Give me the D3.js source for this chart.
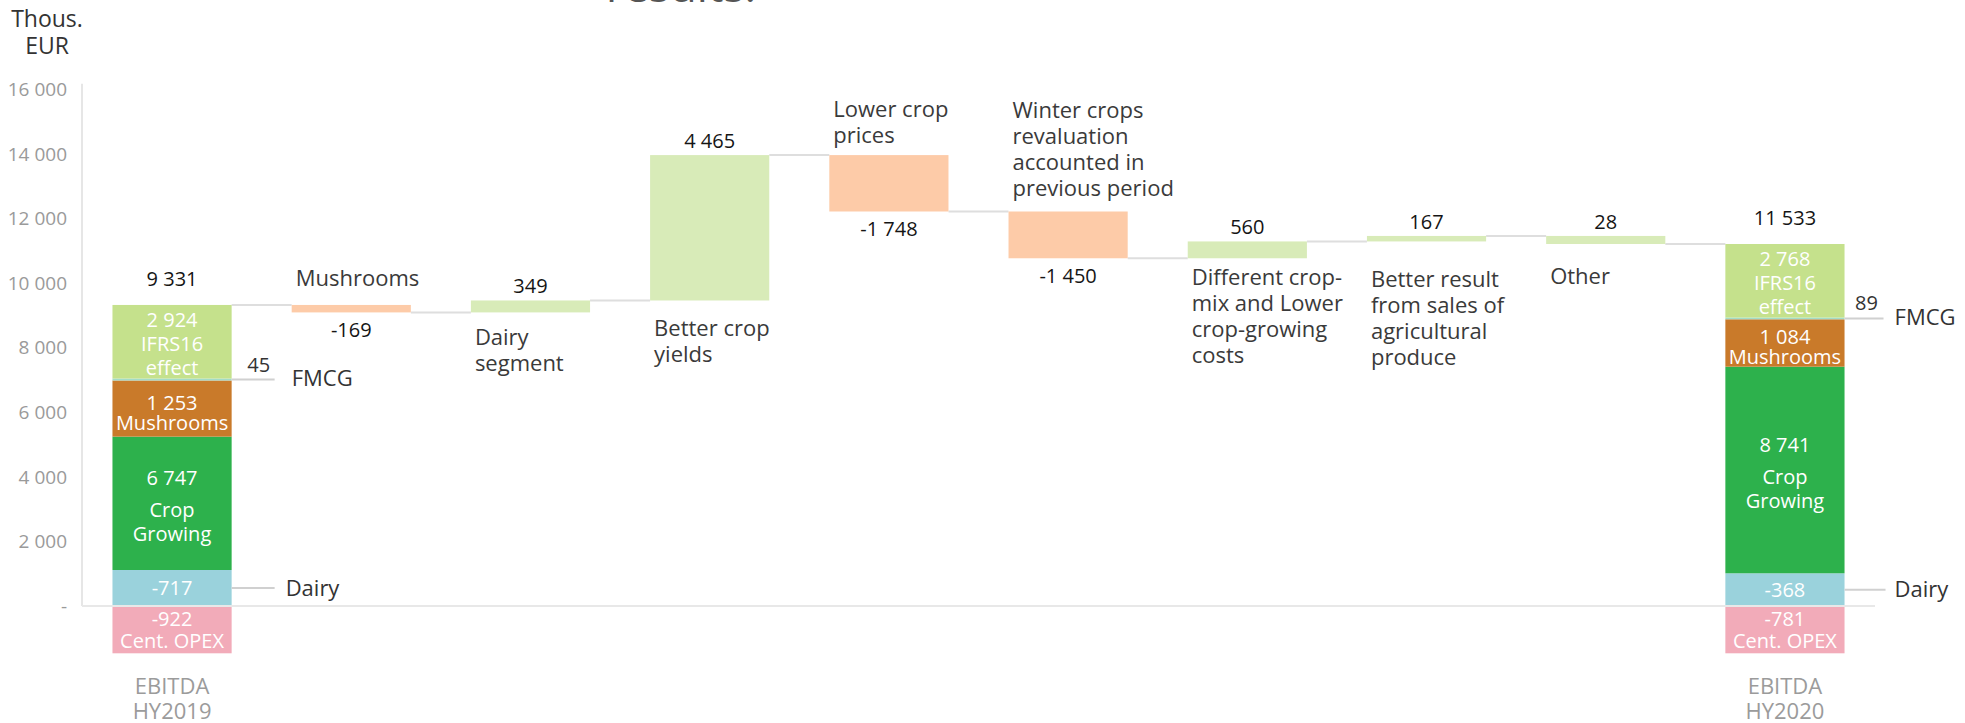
<!DOCTYPE html>
<html>
  <head>
    <meta charset="utf-8">
    <title>EBITDA bridge HY2019 - HY2020</title>
    <script src="https://d3js.org/d3.v7.min.js"></script>
    <style>
      body { margin: 0; background: #fff; }
      text { font-family: "Open Sans", sans-serif; }
    </style>
  </head>
  <body>
    <div id="chart"></div>
    <script>
      // data
      var categories = ["HY2019", "Mushrooms", "Dairy", "CropYields", "CropPrices", "WinterCrops",
                        "CropMix", "SalesAgri", "Other", "HY2020"];
      var categoryLabels = [
        ["EBITDA", "HY2019"],
        ["Mushrooms"],
        ["Dairy", "segment"],
        ["Better crop", "yields"],
        ["Lower crop", "prices"],
        ["Winter crops", "revaluation", "accounted in", "previous period"],
        ["Different crop-", "mix and Lower", "crop-growing", "costs"],
        ["Better result", "from sales of", "agricultural", "produce"],
        ["Other"],
        ["EBITDA", "HY2020"]
      ];
      // change of each step (labels)
      var changeValues = [-169, 349, 4465, -1748, -1450, 560, 167, 28];
      // running level after each category, as drawn in the picture
      var drawnLevels = [9331, 9100, 9470, 13976, 12228, 10778, 11300, 11470, 11220];
      var totalValues = [9331, 11533];

      var segmentKeys = ["opex", "dairy", "crop", "mushrooms", "fmcg", "ifrs16"];
      var hy2019Labels = [-922, -717, 6747, 1253, 45, 2924];
      var hy2020Labels = [-781, -368, 8741, 1084, 89, 2768];
      // segment heights as drawn (thous. EUR)
      var hy2019Heights = [-1466, 1116, 4134, 1740, 60, 2281];
      var hy2020Heights = [-1466, 1014, 6404, 1469, 53, 2280];

      var yTicks = [0, 2000, 4000, 6000, 8000, 10000, 12000, 14000, 16000];

      // styles / layout
      var segmentColors = {
        opex: "#f2abb9", dairy: "#9ad2dc", crop: "#2db14c",
        mushrooms: "#c97a2a", fmcg: "#a3dcc8", ifrs16: "#c5e18c"
      };
      var segmentNames = {
        opex: ["Cent. OPEX"], dairy: [], crop: ["Crop", "Growing"],
        mushrooms: ["Mushrooms"], ifrs16: ["IFRS16", "effect"]
      };
      var segmentLineOffsets = {
        opex: [-11, 11], dairy: [0], crop: [-25, 7, 31],
        mushrooms: [-6, 14], ifrs16: [-22, 2, 26]
      };
      var catLabelGap = [0, 27, 25, 28, 20, 23, 19, 38, 32, 0];
      var sideLayout = [
        { lineLen: 43, valueX: 27, nameX: 60, dairyLen: 43, dairyX: 54 },
        { lineLen: 39, valueX: 22, nameX: 50, dairyLen: 41, dairyX: 50 }
      ];

      var width = 1965;
      var height = 723;

      var locale = d3.formatLocale({ decimal: ".", thousands: " ", grouping: [3], currency: ["", ""], minus: "-" });
      var fmt = locale.format(",d");

      var svg = d3.select("#chart")
        .append("svg")
        .attr("width", width)
        .attr("height", height);

      var x = d3.scaleBand()
        .domain(categories)
        .range([82, 1875])
        .paddingInner(0.335)
        .paddingOuter(0.17);

      var y = d3.scaleLinear()
        .domain([0, 16000])
        .range([606, 89.8]);

      var bw = x.bandwidth();

      // cut-off title at the very top
      svg.append("text")
        .attr("x", 606)
        .attr("y", 2)
        .style("font-size", "44px")
        .style("fill", "#555")
        .text("results:");

      // unit label
      svg.selectAll(".unit")
        .data(["Thous.", "EUR"])
        .enter()
        .append("text")
        .attr("x", 47)
        .attr("y", function(d, i) { return 19 + i * 27; })
        .attr("dy", "0.35em")
        .attr("text-anchor", "middle")
        .style("font-size", "23px")
        .style("fill", "#333")
        .text(function(d) { return d; });

      // y axis
      var yAxis = svg.append("g")
        .attr("transform", "translate(82,0)")
        .call(d3.axisLeft(y)
          .tickValues(yTicks)
          .tickSize(0)
          .tickSizeOuter(0)
          .tickPadding(15)
          .tickFormat(function(d) { return d === 0 ? "-" : fmt(d); }));

      yAxis.select(".domain")
        .attr("d", "M0," + (y(16000) - 6) + "V" + y(0))
        .style("stroke", "#e6e6e6")
        .style("stroke-width", 2);

      yAxis.selectAll("text")
        .style("font-family", "'Open Sans', sans-serif")
        .style("font-size", "19px")
        .style("fill", "#9a9a9a");

      // connectors
      var connectors = d3.range(categories.length - 1).map(function(i) {
        return { from: categories[i], to: categories[i + 1], level: drawnLevels[i] };
      });

      svg.selectAll(".connector")
        .data(connectors)
        .enter()
        .append("line")
        .attr("class", "connector")
        .attr("x1", function(d) { return x(d.from) + bw; })
        .attr("x2", function(d) { return x(d.to); })
        .attr("y1", function(d) { return y(d.level); })
        .attr("y2", function(d) { return y(d.level); })
        .style("stroke", "#dedede")
        .style("stroke-width", 2);

      // waterfall steps
      var steps = changeValues.map(function(v, i) {
        return {
          index: i + 1,
          cat: categories[i + 1],
          value: v,
          from: drawnLevels[i],
          to: drawnLevels[i + 1]
        };
      });

      svg.selectAll(".step")
        .data(steps)
        .enter()
        .append("rect")
        .attr("class", "step")
        .attr("x", function(d) { return x(d.cat); })
        .attr("width", bw)
        .attr("y", function(d) { return y(Math.max(d.from, d.to)); })
        .attr("height", function(d) { return Math.abs(y(d.from) - y(d.to)); })
        .style("fill", function(d) { return d.value >= 0 ? "#d8ebb8" : "#fdcba8"; });

      // step value labels
      svg.selectAll(".stepValue")
        .data(steps)
        .enter()
        .append("text")
        .attr("class", "stepValue")
        .attr("x", function(d) { return x(d.cat) + bw / 2; })
        .attr("y", function(d) {
          return d.value >= 0
            ? y(Math.max(d.from, d.to)) - 14
            : y(Math.min(d.from, d.to)) + 18;
        })
        .attr("dy", "0.35em")
        .attr("text-anchor", "middle")
        .style("font-size", "20px")
        .style("fill", "#151515")
        .text(function(d) { return fmt(d.value); });

      // step category labels
      steps.forEach(function(d) {
        var lines = categoryLabels[d.index];
        var gap = catLabelGap[d.index];
        var top = y(Math.max(d.from, d.to));
        var bottom = y(Math.min(d.from, d.to));
        var startY = d.value >= 0
          ? bottom + gap
          : top - gap - (lines.length - 1) * 26;
        svg.append("g").selectAll("text")
          .data(lines)
          .enter()
          .append("text")
          .attr("x", x(d.cat) + 4)
          .attr("y", function(l, j) { return startY + j * 26; })
          .attr("dy", "0.35em")
          .style("font-size", "22px")
          .style("fill", "#3a3a3a")
          .text(function(l) { return l; });
      });

      // stacked totals
      var totals = [
        { cat: categories[0], heights: hy2019Heights, labels: hy2019Labels, total: totalValues[0], lines: categoryLabels[0], side: sideLayout[0] },
        { cat: categories[9], heights: hy2020Heights, labels: hy2020Labels, total: totalValues[1], lines: categoryLabels[9], side: sideLayout[1] }
      ];

      var rows = totals.map(function(t) {
        var row = {};
        segmentKeys.forEach(function(k, i) { row[k] = t.heights[i]; });
        return row;
      });

      var stacked = d3.stack()
        .keys(segmentKeys)
        .offset(d3.stackOffsetDiverging)(rows);

      totals.forEach(function(t, ti) {
        var g = svg.append("g");
        var cx = x(t.cat) + bw / 2;
        var right = x(t.cat) + bw;
        var top = y(0);

        stacked.forEach(function(series, ki) {
          var key = series.key;
          var seg = series[ti];
          var y0 = y(seg[1]);
          var y1 = y(seg[0]);
          top = Math.min(top, y0);

          g.append("rect")
            .attr("x", x(t.cat))
            .attr("width", bw)
            .attr("y", y0)
            .attr("height", y1 - y0)
            .style("fill", segmentColors[key]);

          var mid = (y0 + y1) / 2;

          if (key === "fmcg") {
            g.append("line")
              .attr("x1", right)
              .attr("x2", right + t.side.lineLen)
              .attr("y1", mid)
              .attr("y2", mid)
              .style("stroke", "#d0d0d0")
              .style("stroke-width", 2);
            g.append("text")
              .attr("x", right + t.side.valueX)
              .attr("y", mid - 15)
              .attr("dy", "0.35em")
              .attr("text-anchor", "middle")
              .style("font-size", "20px")
              .style("fill", "#333")
              .text(fmt(t.labels[ki]));
            g.append("text")
              .attr("x", right + t.side.nameX)
              .attr("y", mid - 1)
              .attr("dy", "0.35em")
              .style("font-size", "22px")
              .style("fill", "#333")
              .text("FMCG");
            return;
          }

          if (key === "dairy") {
            g.append("line")
              .attr("x1", right)
              .attr("x2", right + t.side.dairyLen)
              .attr("y1", mid)
              .attr("y2", mid)
              .style("stroke", "#d0d0d0")
              .style("stroke-width", 2);
            g.append("text")
              .attr("x", right + t.side.dairyX)
              .attr("y", mid)
              .attr("dy", "0.35em")
              .style("font-size", "22px")
              .style("fill", "#333")
              .text("Dairy");
          }

          var lines = [fmt(t.labels[ki])].concat(segmentNames[key]);
          var offsets = segmentLineOffsets[key];
          g.selectAll(".seg-" + key)
            .data(lines)
            .enter()
            .append("text")
            .attr("x", cx)
            .attr("y", function(l, j) { return mid + offsets[j]; })
            .attr("dy", "0.35em")
            .attr("text-anchor", "middle")
            .style("font-size", "20px")
            .style("fill", "#fff")
            .text(function(l) { return l; });
        });

        // total value
        g.append("text")
          .attr("x", cx)
          .attr("y", top - 26)
          .attr("dy", "0.35em")
          .attr("text-anchor", "middle")
          .style("font-size", "20px")
          .style("fill", "#151515")
          .text(fmt(t.total));

        // category label under the bar
        var bottom = y(d3.min(t.heights));
        g.selectAll(".cat")
          .data(t.lines)
          .enter()
          .append("text")
          .attr("x", cx)
          .attr("y", function(l, j) { return bottom + 33 + j * 25; })
          .attr("dy", "0.35em")
          .attr("text-anchor", "middle")
          .style("font-size", "22px")
          .style("fill", "#9b9b9b")
          .text(function(l) { return l; });
      });

      // x baseline, drawn over the bars like the thin gap in the picture
      svg.append("line")
        .attr("x1", 82)
        .attr("x2", 1875)
        .attr("y1", y(0))
        .attr("y2", y(0))
        .style("stroke", "#e8e8e8")
        .style("stroke-width", 2);
    </script>
  </body>
</html>
